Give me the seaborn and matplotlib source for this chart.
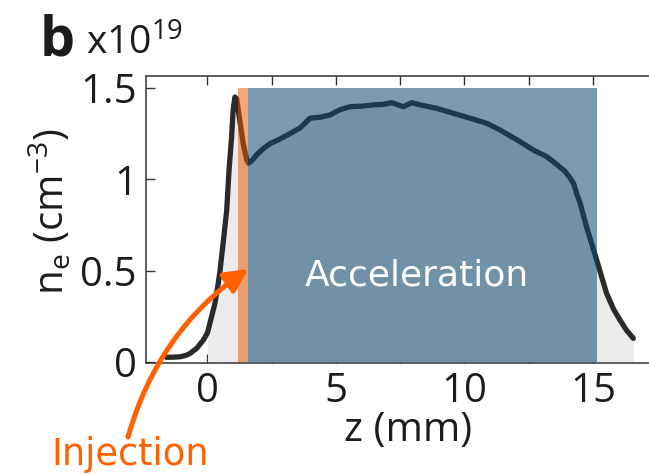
import numpy as np
import pandas as pd
import matplotlib
matplotlib.use("Agg")
import matplotlib.pyplot as plt
import seaborn as sns

# Electron density along the gas target, in units of 1e19 cm^-3
z_mm = [-1.59, -1.30, -1.07, -0.85, -0.68, -0.42, -0.16, 0.00, 0.03, 0.16, 0.29,
        0.42, 0.49, 0.61, 0.75, 0.84, 0.94, 1.00, 1.07, 1.14, 1.26, 1.39,
        1.53, 1.60, 1.75, 1.91, 2.15, 2.43, 2.82, 3.21, 3.60, 3.99, 4.40,
        4.77, 5.15, 5.54, 6.00, 6.45, 6.85, 7.17, 7.62, 7.95, 8.27, 8.92,
        9.57, 10.20, 10.87, 11.38, 12.16, 12.68, 13.20, 13.60, 13.90, 14.10,
        14.25, 14.37, 14.50, 14.75, 15.14, 15.53, 15.80, 16.05, 16.30, 16.57]
ne_1e19 = [0.026, 0.027, 0.029, 0.036, 0.047, 0.075, 0.12, 0.16, 0.175, 0.248,
           0.32, 0.43, 0.50, 0.65, 0.83, 1.05, 1.23, 1.38, 1.45, 1.44, 1.32,
           1.197, 1.105, 1.088, 1.105, 1.133, 1.165, 1.195, 1.22, 1.25, 1.28,
           1.334, 1.34, 1.352, 1.38, 1.397, 1.40, 1.407, 1.41, 1.419, 1.397,
           1.419, 1.407, 1.388, 1.361, 1.335, 1.306, 1.27, 1.206, 1.16, 1.124,
           1.08, 1.045, 1.01, 0.975, 0.92, 0.87, 0.74, 0.56, 0.376, 0.29, 0.23,
           0.175, 0.13]

fill_start = 0.0
injection_window = [1.20, 1.59]
acceleration_window = [1.59, 15.14]
window_top = 1.5

x_ticks = [0, 5, 10, 15]
x_minor_ticks = [2.5, 7.5, 12.5]
y_ticks = [0, 0.5, 1, 1.5]
y_tick_labels = ["0", "0.5", "1", "1.5"]

injection_arrow_tip = (1.59, 0.51)

sns.set_style("ticks")
plt.rcParams["font.family"] = ["Open Sans", "DejaVu Sans"]
plt.rcParams["mathtext.default"] = "regular"

W, H = 649, 474
fig = plt.figure(figsize=(W / 100, H / 100), dpi=100)
# the frame runs on to the right edge of the figure, with no right spine
ax = fig.add_axes([146 / W, 1 - 363 / H, 503 / W, 287 / H])

df = pd.DataFrame({"z": z_mm, "ne": ne_1e19})
z = np.asarray(z_mm)
ne = np.asarray(ne_1e19)

# shaded plasma region under the profile
ax.fill_between(z, 0, ne, where=z >= fill_start, color="#ebebeb", lw=0, zorder=1)
sns.lineplot(data=df, x="z", y="ne", ax=ax, color="#2a2a2a", lw=3.8,
             sort=False, zorder=2, solid_capstyle="round", solid_joinstyle="round")

# injection and acceleration windows laid over the profile
ax.fill_between(injection_window, 0, window_top, color="#ea5800", alpha=0.52,
                lw=0, zorder=3)
ax.fill_between(acceleration_window, 0, window_top, color="#0d496e", alpha=0.55,
                lw=0, zorder=3)

ax.text(np.mean(acceleration_window) - 0.2, 0.42, "Acceleration", color="white",
        fontsize=26, family="DejaVu Sans", ha="center", va="baseline", zorder=5)

ax.set_xlim(-2.39, 17.18)
ax.set_ylim(-0.005, 1.565)
ax.set_xticks(x_ticks)
ax.set_xticks(x_minor_ticks, minor=True)
ax.set_yticks(y_ticks, y_tick_labels)

for side, spine in ax.spines.items():
    spine.set_color("#333333")
    spine.set_linewidth(1.1)
    spine.set_zorder(6)
ax.spines["right"].set_visible(False)

ax.tick_params(axis="both", which="both", direction="in", length=6.5, width=1.0,
               color="#333333", labelsize=29, labelcolor="#1c1c1c")
ax.tick_params(axis="x", which="both", top=True, bottom=True, pad=6)
ax.tick_params(axis="y", which="both", left=True, right=False, pad=6.5)

ax.set_xlabel("z (mm)", fontsize=29, color="#1c1c1c")
ax.xaxis.set_label_coords((408 - 146) / 503, -0.165)
ax.set_ylabel("")

fig.text(51 / W, 1 - 212 / H, "$n_e$ (cm$^{-3}$)", fontsize=29, color="#1c1c1c",
         rotation=90, ha="center", va="center")

fig.text(40 / W, 1 - 55 / H, "b", fontsize=40, fontweight="bold", color="#1c1c1c",
         ha="left", va="baseline")
fig.text(86 / W, 1 - 55 / H, "x10$^{19}$", fontsize=28, color="#1c1c1c",
         ha="left", va="baseline")

fig.text(130 / W, 1 - 465 / H, "Injection", color="#ff6000", fontsize=26.5,
         family="DejaVu Sans", ha="center", va="baseline")

ax.annotate("", xy=injection_arrow_tip, xycoords="data",
            xytext=(128, H - 437), textcoords="figure pixels",
            arrowprops=dict(arrowstyle="-|>,head_length=14,head_width=7",
                            mutation_scale=1, color="#ff6000", lw=3.6,
                            shrinkA=0, shrinkB=0,
                            connectionstyle="arc3,rad=-0.18"),
            annotation_clip=False, zorder=7)

fig.savefig("out.png", dpi=100)
